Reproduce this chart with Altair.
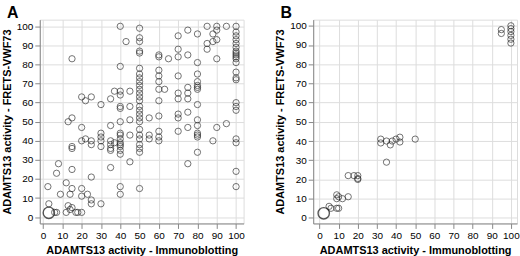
import altair as alt
import pandas as pd

# Panel A data: (Immunoblotting, FRETS-VWF73)
a_x = [15, 40, 40, 40, 40, 40, 40, 40, 43, 45, 45, 45,
       50, 50, 50, 50, 50, 50, 50, 50, 50, 50, 50, 50, 50, 50, 50, 50, 50, 50, 50,
       37, 35, 30, 20, 22, 25, 13, 15, 20, 35, 55, 60, 60, 60, 60, 60, 60, 60, 60, 63, 65,
       70, 70, 70, 70, 70, 70, 70, 70, 75, 75, 75, 75, 75, 75, 80, 80, 80, 80, 80, 80, 80, 80, 80, 80,
       75, 85, 85, 85, 88, 88, 90, 90, 90, 90, 90, 95, 95,
       100, 100, 100, 100, 100, 100, 100, 100, 100, 100, 100, 100, 100, 100, 100, 100, 100, 100,
       3, 2.5, 6, 7, 7, 8, 9, 12, 15, 15, 15, 12, 13, 14, 14, 15, 15, 17, 18, 20, 20, 20, 20,
       22, 23, 25, 25, 25, 25, 25, 30, 30, 30, 30, 30, 35, 35, 35, 35, 35, 37,
       40, 40, 40, 40, 40, 40, 40, 40, 40, 40, 45, 45, 50, 50, 50, 50, 50, 50, 50,
       55, 55, 60, 60, 60, 70, 75, 80, 80, 80, 80, 88, 100, 100, 100, 100]
a_y = [83, 100, 79, 66, 64, 58, 57, 50, 92, 66, 58, 51,
       99, 94, 92, 87, 86, 78, 75, 73, 71, 69, 67, 65, 63, 61, 58, 56, 54, 52, 50,
       66, 62, 59, 63, 61, 63, 50, 52, 47, 48, 52, 53, 61, 67, 71, 74, 77, 84, 85, 67, 83,
       95, 88, 84, 74, 65, 62, 54, 52, 98, 85, 68, 65, 62, 55, 96, 81, 75, 71, 69, 68, 67, 59, 51, 48,
       47, 100, 91, 88, 96, 92, 100, 98, 93, 83, 47, 100, 49,
       100, 97, 95, 93, 91, 89, 87, 86, 85, 84, 83, 81, 76, 73, 72, 60, 58, 56,
       7, 16, 2.5, 2.5, 23, 28, 12, 18, 25, 37, 36, 2.5, 6, 4, 12, 15, 5, 2.5, 2.5, 15, 11, 2.5, 40,
       41, 12, 21, 9, 7, 40, 38, 44, 42, 40, 37, 7, 26, 40, 38, 36, 35, 39,
       44, 43, 41, 39, 38, 37, 35, 33, 16, 12, 43, 29, 46, 43, 41, 38, 36, 34, 15,
       43, 41, 45, 42, 40, 45, 28, 44, 43, 42, 34, 40, 41, 39, 24, 16]
a_big_x = [3]
a_big_y = [2.3]

# Panel B data
b_x = [95, 95, 100, 100, 100, 100, 100, 100,
       32, 32, 35, 37, 38, 40, 42, 42, 50, 35,
       15, 18, 20, 20, 20, 15, 9, 10, 12, 9, 10, 9, 5, 6]
b_y = [98, 96, 100, 98.5, 97, 95, 93, 91,
       41, 39, 40, 38, 40, 41, 42, 39.5, 41, 29,
       22, 22, 22, 20.5, 20, 11, 12, 11, 10, 10, 5, 5, 6, 5]
b_big_x = [2.2]
b_big_y = [2.4]

FONT = "Liberation Sans"
ticks = list(range(0, 101, 10))


def panel(xs, ys, bx, by, xdom, ydom, letter):
    df = pd.DataFrame({"x": xs, "y": ys})
    dfb = pd.DataFrame({"x": bx, "y": by})
    xenc = alt.X("x:Q", scale=alt.Scale(domain=xdom, nice=False, zero=False),
                 axis=alt.Axis(values=ticks, title="ADAMTS13 activity - Immunoblotting"))
    yenc = alt.Y("y:Q", scale=alt.Scale(domain=ydom, nice=False, zero=False),
                 axis=alt.Axis(values=ticks, title="ADAMTS13 activity - FRETS-VWF73"))
    pts = alt.Chart(df).mark_point(shape="circle", filled=False, size=40,
                                   color="#222222", strokeWidth=0.9).encode(x=xenc, y=yenc)
    big = alt.Chart(dfb).mark_point(shape="circle", filled=False, size=130,
                                    color="#111111", strokeWidth=1.4).encode(x=xenc, y=yenc)
    lab = alt.Chart(pd.DataFrame({"t": [letter]})).mark_text(
        font=FONT, fontSize=16, fontWeight="bold", align="left", baseline="top",
        color="#000000").encode(x=alt.value(-33), y=alt.value(-15), text="t:N")
    return alt.layer(pts, big, lab).properties(width=205, height=205)


A = panel(a_x, a_y, a_big_x, a_big_y, [-1.7, 103.9], [-3.3, 103.5], "A")
B = panel(b_x, b_y, b_big_x, b_big_y, [-3.3, 103.2], [-2.9, 103.2], "B")

chart = alt.hconcat(A, B, spacing=70, bounds="flush").properties(
    padding={"left": 0, "top": 3, "right": 0, "bottom": 0}
).configure_view(stroke="#444444", strokeWidth=1).configure_axis(
    domain=False, grid=False, tickSize=3, tickColor="#444444",
    labelFont=FONT, labelFontSize=8.5, labelColor="#444444", labelPadding=2,
    titleFont=FONT, titleFontSize=11.7, titleFontWeight="bold", titleColor="#111111",
    titlePadding=1
).configure(background="white")

chart.save("out.html", embed_options={"renderer": "svg", "actions": False})
